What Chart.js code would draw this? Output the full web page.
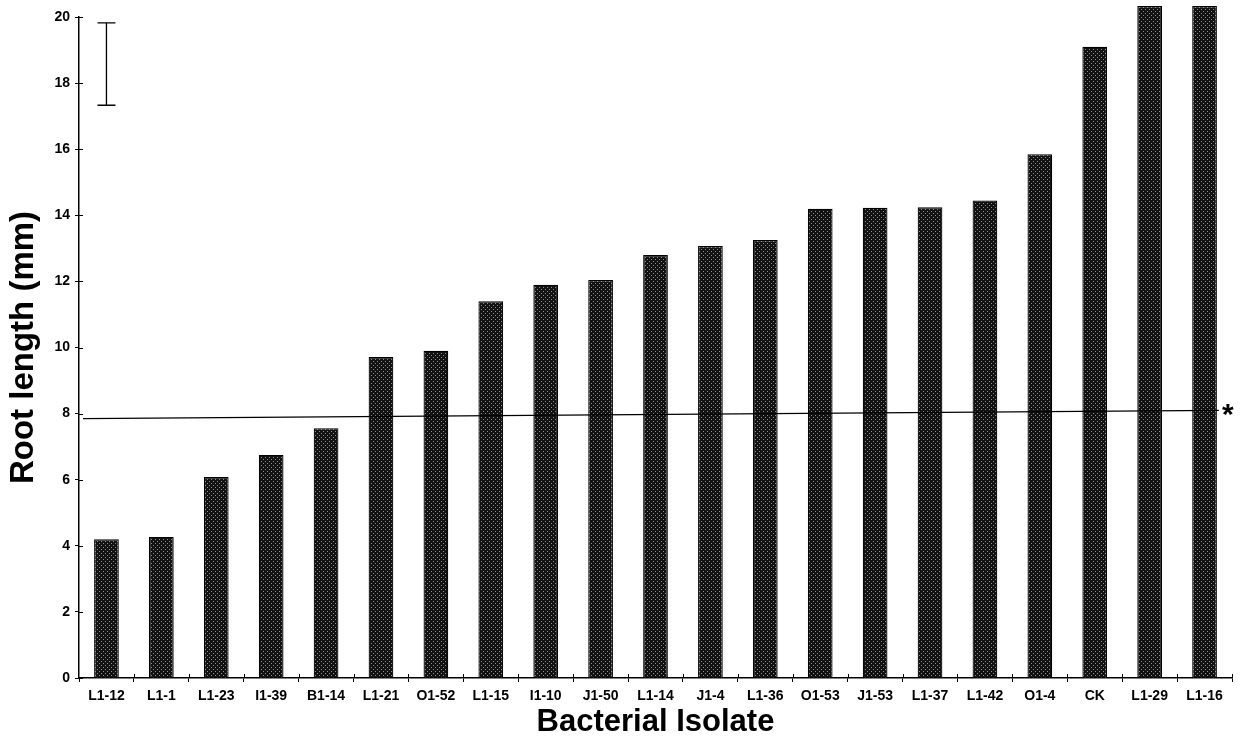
<!DOCTYPE html>
<html>
<head>
<meta charset="utf-8">
<title>Root length by bacterial isolate</title>
<script src="https://cdn.jsdelivr.net/npm/chart.js@4.4.1/dist/chart.umd.min.js"></script>
<style>
    html, body { margin: 0; padding: 0; background: #fff; }
    #wrap { width: 1245px; height: 741px; }
</style>
</head>
<body>
<div id="wrap"><canvas id="chart" width="1245" height="741"></canvas></div>
<script>
// Data
const isolates = ['L1-12', 'L1-1', 'L1-23', 'I1-39', 'B1-14', 'L1-21', 'O1-52', 'L1-15', 'I1-10', 'J1-50',
    'L1-14', 'J1-4', 'L1-36', 'O1-53', 'J1-53', 'L1-37', 'L1-42', 'O1-4', 'CK', 'L1-29', 'L1-16'];
const rootLength = [4.2, 4.27, 6.08, 6.75, 7.56, 9.71, 9.9, 11.4, 11.9, 12.04,
    12.8, 13.07, 13.25, 14.2, 14.23, 14.24, 14.45, 15.85, 19.1, 20.33, 20.33];
const yTicks = [0, 2, 4, 6, 8, 10, 12, 14, 16, 18, 20];
const refLine = [7.85, 8.1];      // value at left end / right end (scan is a little tilted)
const errorBar = [17.33, 19.82];  // low / high of the error bar drawn over the first bar

const FONT = "'Liberation Sans Narrow', 'Liberation Sans', Arial, sans-serif";
const TITLE_FONT = "'Liberation Sans', Arial, sans-serif";

const canvas = document.getElementById("chart");
const ctx = canvas.getContext("2d");

// dark stippled fill like the printed bars
function stipple() {
    const c = document.createElement("canvas");
    c.width = 4;
    c.height = 4;
    const g = c.getContext("2d");
    g.fillStyle = "#121212";
    g.fillRect(0, 0, 4, 4);
    g.fillStyle = "#8c8c8c";
    g.fillRect(1, 1, 1, 1);
    g.fillRect(3, 3, 1, 1);
    return ctx.createPattern(c, "repeat");
}

// reference line, asterisk, error bar and the inner half of the tick marks
const decorations = {
    id: "decorations",
    afterDatasetsDraw(chart) {
        const { ctx, chartArea, scales } = chart;
        const x = scales.x, y = scales.y;
        ctx.save();
        ctx.strokeStyle = "#000";
        ctx.fillStyle = "#000";
        ctx.lineWidth = 1;

        // inward tick halves
        ctx.beginPath();
        yTicks.forEach((v) => {
            const py = Math.round(y.getPixelForValue(v)) + 0.5;
            ctx.moveTo(chartArea.left, py);
            ctx.lineTo(chartArea.left + 4, py);
        });
        const step = (chartArea.right - chartArea.left) / isolates.length;
        for (let i = 1; i <= isolates.length; i++) {
            const px = Math.round(chartArea.left + step * i) + 0.5;
            ctx.moveTo(px, chartArea.bottom);
            ctx.lineTo(px, chartArea.bottom - 4);
        }
        ctx.stroke();

        // reference line across the bars
        const last = chart.getDatasetMeta(0).data[isolates.length - 1];
        const x0 = chartArea.left + 4;
        const x1 = last.x + last.width / 2 + 2;
        const y1 = y.getPixelForValue(refLine[1]);
        ctx.lineWidth = 1.3;
        ctx.beginPath();
        ctx.moveTo(x0, y.getPixelForValue(refLine[0]));
        ctx.lineTo(x1, y1);
        ctx.stroke();

        ctx.font = "bold 30px " + TITLE_FONT;
        ctx.textAlign = "left";
        ctx.textBaseline = "alphabetic";
        ctx.fillText("*", x1 + 3, y1 + 14);

        // error bar
        const ex = x.getPixelForValue(0);
        const lo = y.getPixelForValue(errorBar[0]);
        const hi = y.getPixelForValue(errorBar[1]);
        ctx.lineWidth = 1.3;
        ctx.beginPath();
        ctx.moveTo(ex, lo);
        ctx.lineTo(ex, hi);
        ctx.moveTo(ex - 9, lo);
        ctx.lineTo(ex + 9, lo);
        ctx.moveTo(ex - 9, hi);
        ctx.lineTo(ex + 9, hi);
        ctx.stroke();
        ctx.restore();
    }
};

new Chart(ctx, {
    type: "bar",
    data: {
        labels: isolates,
        datasets: [{
            data: rootLength,
            backgroundColor: stipple(),
            borderColor: "#000",
            borderWidth: 1.2,
            barPercentage: 0.45,
            categoryPercentage: 1,
            clip: false
        }]
    },
    options: {
        responsive: false,
        animation: false,
        layout: { padding: { top: 17, right: 13, left: 0, bottom: 0 } },
        plugins: {
            legend: { display: false },
            tooltip: { enabled: false }
        },
        scales: {
            x: {
                offset: true,
                grid: { drawOnChartArea: false, offset: true, color: "#000", tickLength: 4, lineWidth: 1 },
                border: { color: "#000", width: 1.5 },
                ticks: {
                    color: "#000",
                    font: { family: FONT, size: 14, weight: "bold" },
                    padding: 6,
                    maxRotation: 0,
                    autoSkip: false
                },
                title: {
                    display: true,
                    text: "Bacterial Isolate",
                    color: "#000",
                    font: { family: TITLE_FONT, size: 31, weight: "bold" },
                    padding: { top: 0, bottom: 0 }
                },
                afterFit: (s) => { s.height = 63; }
            },
            y: {
                min: 0,
                max: 20,
                afterBuildTicks: (s) => { s.ticks = yTicks.map((v) => ({ value: v })); },
                grid: { drawOnChartArea: false, color: "#000", tickLength: 4, lineWidth: 1 },
                border: { color: "#000", width: 1.5 },
                ticks: {
                    color: "#000",
                    font: { family: FONT, size: 14, weight: "bold" },
                    padding: 5
                },
                title: {
                    display: true,
                    text: "Root length (mm)",
                    color: "#000",
                    font: { family: TITLE_FONT, size: 33, weight: "bold" },
                    padding: { top: 4, bottom: 0 }
                },
                afterFit: (s) => { s.width = 79; }
            }
        }
    },
    plugins: [decorations]
});
</script>
</body>
</html>
